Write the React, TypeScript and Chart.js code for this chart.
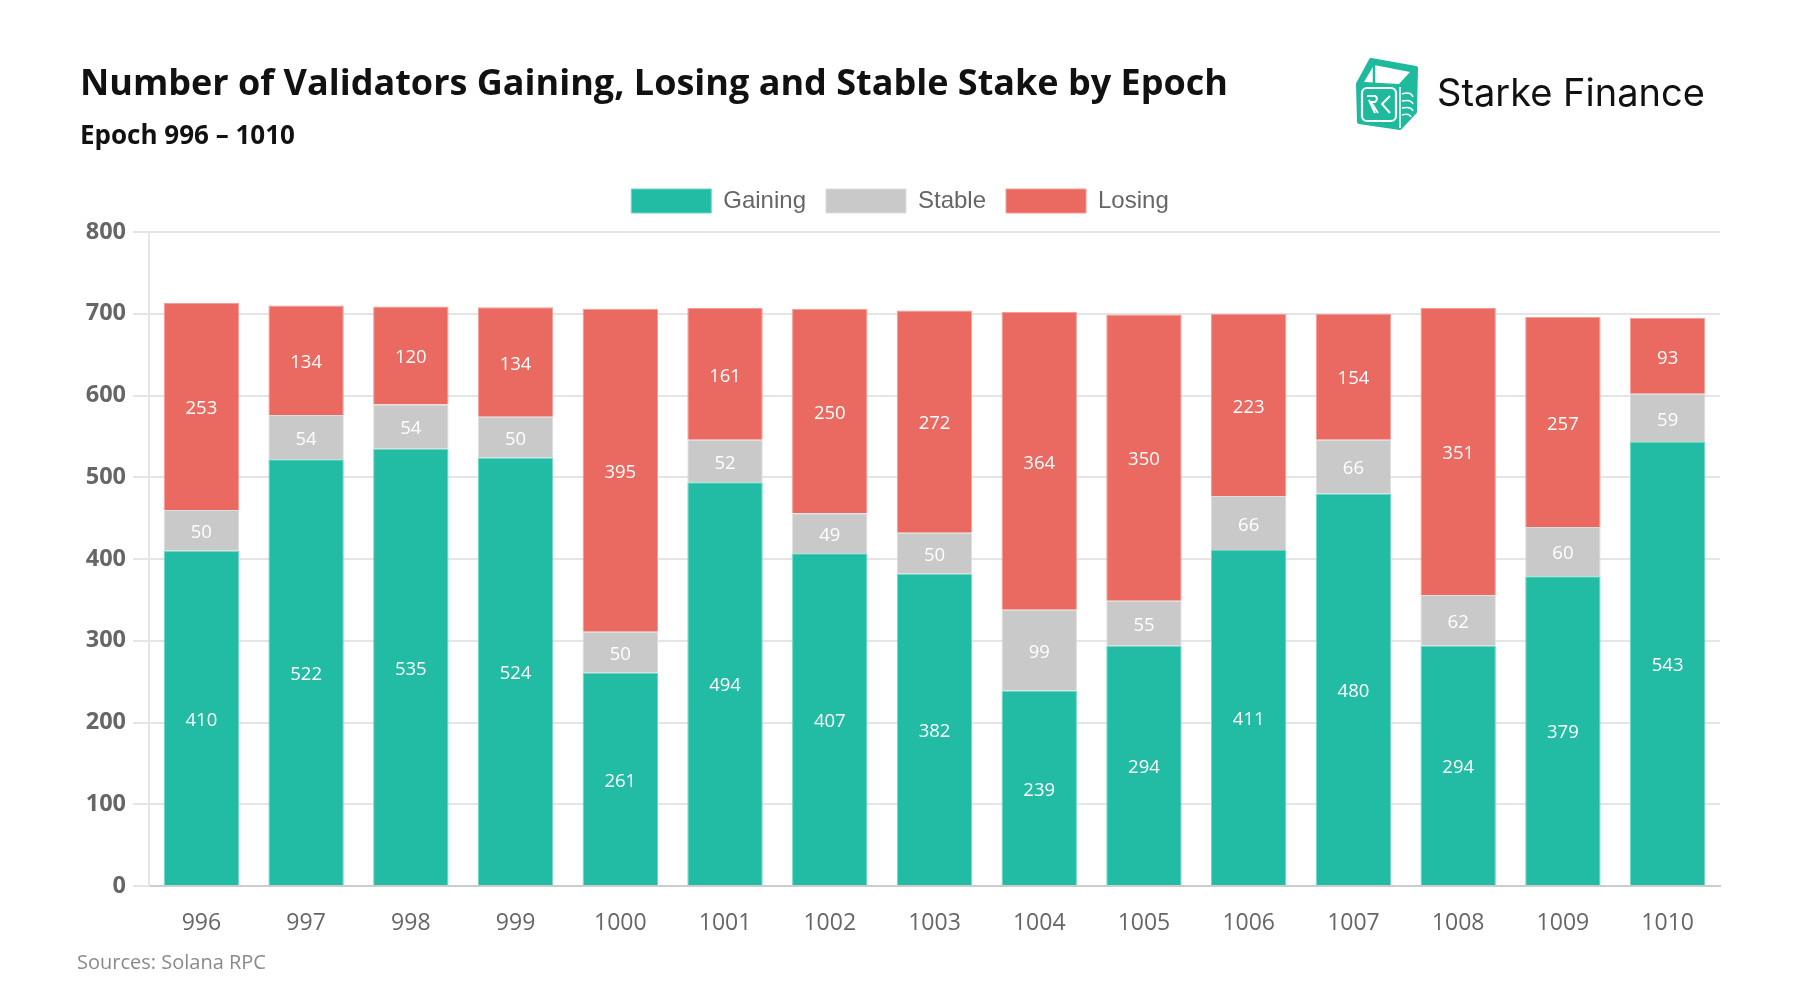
import React, { useEffect, useRef } from "react";
import { Chart, registerables } from "chart.js";

Chart.register(...registerables);

const epochs = ["996", "997", "998", "999", "1000", "1001", "1002", "1003", "1004", "1005", "1006", "1007", "1008", "1009", "1010"];
const gaining = [410, 522, 535, 524, 261, 494, 407, 382, 239, 294, 411, 480, 294, 379, 543];
const stable = [50, 54, 54, 50, 50, 52, 49, 50, 99, 55, 66, 66, 62, 60, 59];
const losing = [253, 134, 120, 134, 395, 161, 250, 272, 364, 350, 223, 154, 351, 257, 93];
const yMin = 0;
const yMax = 800;
const yStep = 100;

const TEAL = "#22bca5";
const GREY = "#c8c9c8";
const RED = "#ea6a61";

const segmentLabels = {
  id: "segmentLabels",
  afterDatasetsDraw(chart: any) {
    const ctx = chart.ctx;
    ctx.save();
    ctx.font = '18.5px "Open Sans"';
    ctx.fillStyle = "#ffffff";
    ctx.textAlign = "center";
    ctx.textBaseline = "middle";
    chart.data.datasets.forEach((ds: any, i: number) => {
      const meta = chart.getDatasetMeta(i);
      if (meta.hidden) return;
      meta.data.forEach((el: any, j: number) => {
        const p = el.getProps(["x", "y", "base"], true);
        ctx.fillText(String(ds.data[j]), p.x, (p.y + p.base) / 2 + 2.5);
      });
    });
    ctx.restore();
  },
};

const legendGap = {
  id: "legendGap",
  beforeInit(chart: any) {
    const orig = chart.legend.fit;
    chart.legend.fit = function () {
      orig.call(this);
      this.height += 9;
    };
  },
};

function Logo() {
  return (
    <svg width={85} height={85} viewBox="0 0 85 85" style={{ position: "absolute", left: 1345, top: 50 }}>
      <path
        d="M13 34 L26 10 L71 18 L70 62 L55 78 L14 72 Z"
        fill="#1fb99e"
        stroke="#1fb99e"
        strokeWidth={4}
        strokeLinejoin="round"
      />
      <path d="M19 32 L29 15 L65 22 L54 34 Z" fill="#ffffff" />
      <path d="M29 15 L29 33" stroke="#1fb99e" strokeWidth={2.5} />
      <path d="M55 37 L55 78" stroke="#ffffff" strokeWidth={1.5} />
      <rect x={17} y={38} width={34} height={33} rx={5} fill="none" stroke="#ffffff" strokeWidth={2.2} />
      <path d="M22 46 L30 46 Q34 48 30 52 L26 52 L33 63" fill="none" stroke="#ffffff" strokeWidth={2} strokeLinejoin="round" />
      <path d="M24 50 L30 63" fill="none" stroke="#ffffff" strokeWidth={2} />
      <path d="M45 46 L37 54 L45 63" fill="none" stroke="#ffffff" strokeWidth={2} strokeLinejoin="round" />
      <path d="M57 44 Q66 41 68 47" fill="none" stroke="#ffffff" strokeWidth={1.5} />
      <path d="M57 51 Q66 49 68 54" fill="none" stroke="#ffffff" strokeWidth={1.5} />
      <path d="M57 58 Q66 56 68 61" fill="none" stroke="#ffffff" strokeWidth={1.5} />
      <path d="M57 65 Q64 63 66 67" fill="none" stroke="#ffffff" strokeWidth={1.5} />
    </svg>
  );
}

export default function App() {
  const canvasRef = useRef<HTMLCanvasElement | null>(null);

  useEffect(() => {
    if (!canvasRef.current) return;
    const chart = new Chart(canvasRef.current, {
      type: "bar",
      data: {
        labels: epochs,
        datasets: [
          { label: "Gaining", data: gaining, backgroundColor: TEAL, borderColor: "#6fd6c6", borderWidth: 1 },
          { label: "Stable", data: stable, backgroundColor: GREY, borderColor: "#dcdddc", borderWidth: 1 },
          { label: "Losing", data: losing, backgroundColor: RED, borderColor: "#f29d96", borderWidth: 1 },
        ],
      },
      options: {
        animation: false,
        responsive: false,
        maintainAspectRatio: false,
        devicePixelRatio: 1,
        layout: { padding: { top: 169, left: 80, right: 80, bottom: 54 } },
        plugins: {
          legend: {
            position: "top",
            labels: {
              boxWidth: 80,
              boxHeight: 24,
              padding: 20,
              color: "#666666",
              font: { family: '"Liberation Sans", Arial, sans-serif', size: 24 },
            },
          },
          tooltip: { enabled: false },
          title: { display: false },
        },
        scales: {
          x: {
            stacked: true,
            grid: { display: false, drawTicks: false },
            border: { display: true, color: "#cccccc", width: 2 },
            ticks: {
              color: "#666666",
              padding: 24,
              font: { family: '"Open Sans"', size: 23 },
            },
            afterFit: (s: any) => {
              s.height = 60;
            },
          },
          y: {
            stacked: true,
            min: yMin,
            max: yMax,
            grid: { color: "#e5e5e5", lineWidth: 2, tickLength: 16, drawTicks: true },
            border: { display: true, color: "#e5e5e5", width: 2 },
            ticks: {
              stepSize: yStep,
              color: "#666666",
              padding: 7,
              font: { family: '"Open Sans"', size: 23.5, weight: "bold" },
            },
            afterFit: (s: any) => {
              s.width = 69;
            },
          },
        },
      },
      plugins: [segmentLabels, legendGap],
    });
    return () => chart.destroy();
  }, []);

  return (
    <div style={{ position: "absolute", left: 0, top: 0, width: 1800, height: 1000, background: "#ffffff", overflow: "hidden" }}>
      <canvas ref={canvasRef} width={1800} height={1000} style={{ position: "absolute", left: 0, top: 0, width: 1800, height: 1000 }} />
      <div
        style={{
          position: "absolute",
          left: 80,
          top: 64,
          fontFamily: '"Open Sans", sans-serif',
          fontWeight: 700,
          fontSize: 36,
          lineHeight: 1,
          color: "#111111",
          whiteSpace: "nowrap",
        }}
      >
        Number of Validators Gaining, Losing and Stable Stake by Epoch
      </div>
      <div
        style={{
          position: "absolute",
          left: 80,
          top: 121,
          fontFamily: '"Open Sans", sans-serif',
          fontWeight: 700,
          fontSize: 26,
          lineHeight: 1,
          color: "#111111",
          whiteSpace: "nowrap",
        }}
      >
        Epoch 996 – 1010
      </div>
      <Logo />
      <div
        style={{
          position: "absolute",
          left: 1437,
          top: 73,
          fontFamily: 'Inter, sans-serif',
          fontWeight: 400,
          fontSize: 38,
          lineHeight: 1,
          color: "#111111",
          whiteSpace: "nowrap",
        }}
      >
        Starke Finance
      </div>
      <div
        style={{
          position: "absolute",
          left: 77,
          top: 952,
          fontFamily: '"Open Sans", sans-serif',
          fontSize: 20,
          lineHeight: 1,
          color: "#8a8a8a",
          whiteSpace: "nowrap",
        }}
      >
        Sources: Solana RPC
      </div>
    </div>
  );
}
